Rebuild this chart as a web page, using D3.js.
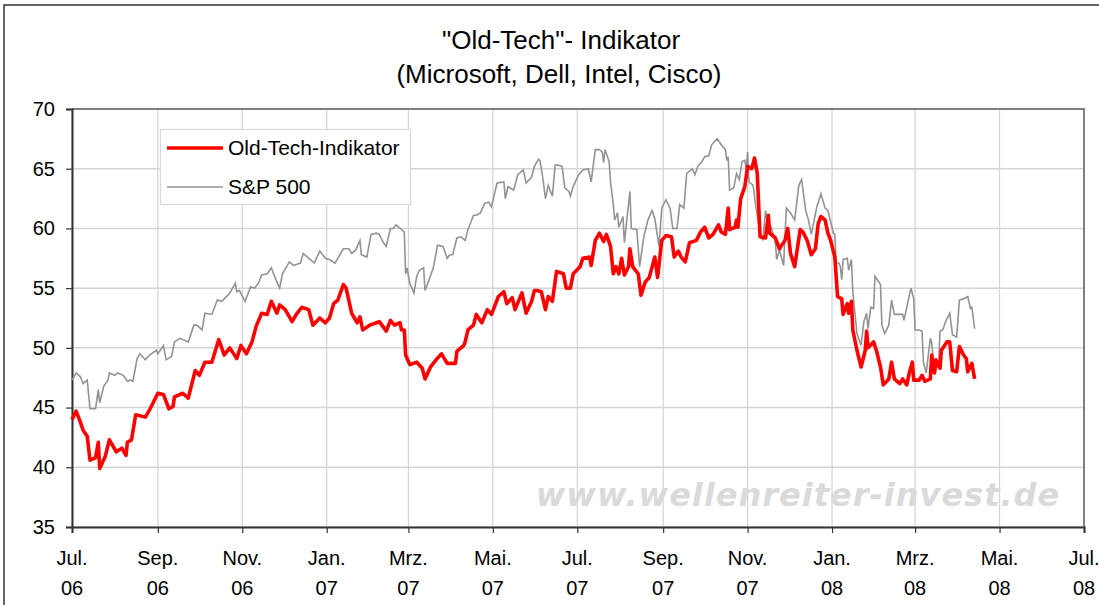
<!DOCTYPE html>
<html lang="de">
<head>
<meta charset="UTF-8">
<title>Old-Tech Indikator</title>
<script src="https://d3js.org/d3.v7.min.js"></script>
<style>
  body { margin: 0; background: #fff; }
  text { font-family: "Liberation Sans", Arial, sans-serif; }
</style>
</head>
<body>
<svg id="chart"></svg>
<script>
// tick labels (two lines each)
var tickMonths = ["Jul.", "Sep.", "Nov.", "Jan.", "Mrz.", "Mai.", "Jul.", "Sep.", "Nov.", "Jan.", "Mrz.", "Mai.", "Jul."];
var tickYears  = ["06", "06", "06", "07", "07", "07", "07", "07", "07", "08", "08", "08", "08"];
var tickDates  = ["2006-07-01", "2006-09-01", "2006-11-01", "2007-01-01", "2007-03-01", "2007-05-01",
                  "2007-07-01", "2007-09-01", "2007-11-01", "2008-01-01", "2008-03-01", "2008-05-01", "2008-07-01"];
var yTicks = [35, 40, 45, 50, 55, 60, 65, 70];

// Old-Tech-Indikator
var oldTechDates = ["2006-07-01","2006-07-04","2006-07-07","2006-07-09","2006-07-12","2006-07-14","2006-07-18","2006-07-20","2006-07-21","2006-07-25",
  "2006-07-28","2006-08-02","2006-08-06","2006-08-09","2006-08-10","2006-08-13","2006-08-16","2006-08-23","2006-08-26","2006-09-01",
  "2006-09-05","2006-09-09","2006-09-12","2006-09-13","2006-09-19","2006-09-23","2006-09-28","2006-10-01","2006-10-05","2006-10-10",
  "2006-10-15","2006-10-19","2006-10-23","2006-10-28","2006-10-31","2006-11-04","2006-11-08","2006-11-11","2006-11-15","2006-11-19",
  "2006-11-22","2006-11-26","2006-11-28","2006-12-02","2006-12-07","2006-12-10","2006-12-14","2006-12-19","2006-12-22","2006-12-27",
  "2006-12-31","2007-01-03","2007-01-06","2007-01-09","2007-01-13","2007-01-15","2007-01-19","2007-01-23","2007-01-25","2007-01-27",
  "2007-02-01","2007-02-06","2007-02-08","2007-02-13","2007-02-16","2007-02-19","2007-02-23","2007-02-24","2007-02-26","2007-02-27",
  "2007-03-02","2007-03-07","2007-03-11","2007-03-13","2007-03-17","2007-03-21","2007-03-25","2007-03-29","2007-04-04","2007-04-05",
  "2007-04-10","2007-04-11","2007-04-13","2007-04-17","2007-04-19","2007-04-23","2007-04-27","2007-04-30","2007-05-05","2007-05-09",
  "2007-05-11","2007-05-15","2007-05-17","2007-05-22","2007-05-25","2007-05-29","2007-05-31","2007-06-02","2007-06-05","2007-06-08",
  "2007-06-10","2007-06-13","2007-06-16","2007-06-21","2007-06-23","2007-06-26","2007-06-28","2007-07-03","2007-07-05","2007-07-10",
  "2007-07-11","2007-07-14","2007-07-17","2007-07-20","2007-07-22","2007-07-25","2007-07-27","2007-07-29","2007-07-31","2007-08-02",
  "2007-08-04","2007-08-07","2007-08-08","2007-08-10","2007-08-14","2007-08-16","2007-08-19","2007-08-22","2007-08-26","2007-08-28",
  "2007-08-31","2007-09-03","2007-09-07","2007-09-09","2007-09-12","2007-09-14","2007-09-17","2007-09-20","2007-09-25","2007-09-28",
  "2007-10-01","2007-10-04","2007-10-07","2007-10-11","2007-10-13","2007-10-16","2007-10-18","2007-10-19","2007-10-23","2007-10-24",
  "2007-10-25","2007-10-27","2007-10-30","2007-11-01","2007-11-04","2007-11-06","2007-11-08","2007-11-10","2007-11-14","2007-11-16",
  "2007-11-17","2007-11-21","2007-11-24","2007-11-28","2007-11-30","2007-12-02","2007-12-05","2007-12-09","2007-12-11","2007-12-14",
  "2007-12-17","2007-12-20","2007-12-22","2007-12-24","2007-12-27","2007-12-29","2007-12-31","2008-01-03","2008-01-05","2008-01-08",
  "2008-01-09","2008-01-12","2008-01-13","2008-01-15","2008-01-16","2008-01-19","2008-01-22","2008-01-25","2008-01-26","2008-01-27",
  "2008-01-31","2008-02-02","2008-02-05","2008-02-07","2008-02-11","2008-02-13","2008-02-15","2008-02-19","2008-02-21","2008-02-24",
  "2008-02-26","2008-02-28","2008-02-29","2008-03-04","2008-03-06","2008-03-08","2008-03-12","2008-03-13","2008-03-15","2008-03-16",
  "2008-03-19","2008-03-20","2008-03-24","2008-03-26","2008-03-28","2008-03-31","2008-04-02","2008-04-05","2008-04-07","2008-04-08",
  "2008-04-11","2008-04-13"];
var oldTechValues = [44.0,44.7,43.8,43.1,42.6,40.6,40.8,42.1,39.9,40.9,
  42.3,41.3,41.6,41.0,42.1,42.3,44.4,44.2,44.8,46.2,
  46.1,44.9,45.1,45.9,46.2,45.8,48.1,47.7,48.8,48.8,
  50.7,49.4,50.0,49.1,50.2,49.5,50.5,51.8,52.9,52.8,
  53.9,52.9,53.6,53.2,52.2,52.8,53.4,53.2,51.9,52.5,
  52.1,52.5,53.7,54.0,55.3,55.0,52.9,52.1,52.6,51.5,
  51.9,52.1,52.2,51.4,52.3,51.9,52.1,51.5,51.5,49.4,
  48.6,48.8,48.3,47.4,48.4,49.0,49.5,48.7,48.7,49.7,
  50.2,50.5,51.5,51.9,52.8,52.1,53.2,52.8,54.3,54.7,
  53.7,54.2,53.2,54.6,52.9,53.9,54.8,54.8,54.7,53.2,
  54.3,53.9,56.4,56.2,55.0,55.0,56.2,56.8,57.5,57.6,
  56.9,59.0,59.6,58.9,59.5,58.5,56.2,56.8,56.2,57.5,
  56.1,56.8,58.3,56.8,56.2,54.4,55.5,55.9,57.6,55.9,
  59.0,59.4,59.3,57.6,58.1,57.6,57.2,58.8,59.0,59.7,
  60.1,59.2,59.5,60.3,59.7,59.5,61.7,59.9,60.1,60.7,
  60.1,62.5,63.5,65.2,65.0,65.9,64.6,59.3,59.2,61.1,
  59.6,59.2,58.3,59.0,60.0,57.9,56.8,59.9,59.7,59.0,
  57.8,58.3,60.4,61.0,60.7,59.6,59.0,57.6,54.3,54.1,
  52.8,53.7,52.9,53.9,51.5,49.8,48.4,49.8,51.4,50.0,
  50.5,49.8,48.4,46.9,47.4,48.8,47.4,47.0,47.4,46.9,
  48.0,48.8,47.3,47.3,47.7,47.2,47.4,49.4,47.9,49.0,
  48.3,49.8,50.5,50.5,48.1,48.0,50.1,49.4,49.1,48.0,
  48.7,47.4];

// S&P 500
var spDates = ["2006-07-01","2006-07-04","2006-07-07","2006-07-09","2006-07-12","2006-07-14","2006-07-18","2006-07-20","2006-07-21","2006-07-24",
  "2006-07-27","2006-07-28","2006-08-01","2006-08-03","2006-08-07","2006-08-10","2006-08-12","2006-08-14","2006-08-17","2006-08-19",
  "2006-08-23","2006-08-26","2006-08-31","2006-09-01","2006-09-05","2006-09-07","2006-09-11","2006-09-13","2006-09-17","2006-09-23",
  "2006-09-27","2006-09-29","2006-10-03","2006-10-05","2006-10-10","2006-10-14","2006-10-17","2006-10-19","2006-10-23","2006-10-25",
  "2006-10-27","2006-10-28","2006-10-30","2006-11-03","2006-11-07","2006-11-10","2006-11-13","2006-11-15","2006-11-19","2006-11-22",
  "2006-11-25","2006-11-28","2006-11-30","2006-12-05","2006-12-08","2006-12-13","2006-12-15","2006-12-20","2006-12-23","2006-12-27",
  "2006-12-31","2007-01-03","2007-01-07","2007-01-11","2007-01-13","2007-01-17","2007-01-19","2007-01-22","2007-01-25","2007-01-26",
  "2007-01-30","2007-02-02","2007-02-06","2007-02-08","2007-02-11","2007-02-13","2007-02-16","2007-02-18","2007-02-20","2007-02-23",
  "2007-02-26","2007-02-27","2007-02-28","2007-03-02","2007-03-05","2007-03-07","2007-03-09","2007-03-12","2007-03-13","2007-03-15",
  "2007-03-19","2007-03-22","2007-03-26","2007-03-29","2007-03-31","2007-04-02","2007-04-05","2007-04-08","2007-04-11","2007-04-13",
  "2007-04-17","2007-04-19","2007-04-22","2007-04-25","2007-04-28","2007-04-30","2007-05-04","2007-05-09","2007-05-10","2007-05-12",
  "2007-05-16","2007-05-19","2007-05-23","2007-05-25","2007-05-29","2007-05-31","2007-06-03","2007-06-04","2007-06-06","2007-06-08",
  "2007-06-10","2007-06-13","2007-06-15","2007-06-17","2007-06-20","2007-06-22","2007-06-25","2007-06-26","2007-06-28","2007-07-02",
  "2007-07-05","2007-07-09","2007-07-11","2007-07-14","2007-07-17","2007-07-19","2007-07-20","2007-07-21","2007-07-24","2007-07-25",
  "2007-07-27","2007-07-28","2007-07-30","2007-07-31","2007-08-03","2007-08-04","2007-08-08","2007-08-09","2007-08-13","2007-08-15",
  "2007-08-18","2007-08-21","2007-08-24","2007-08-26","2007-08-29","2007-08-31","2007-09-03","2007-09-06","2007-09-08","2007-09-11",
  "2007-09-13","2007-09-16","2007-09-18","2007-09-22","2007-09-24","2007-09-26","2007-09-29","2007-10-01","2007-10-04","2007-10-06",
  "2007-10-10","2007-10-13","2007-10-16","2007-10-17","2007-10-18","2007-10-19","2007-10-22","2007-10-24","2007-10-26","2007-10-28",
  "2007-10-30","2007-10-31","2007-11-01","2007-11-02","2007-11-05","2007-11-07","2007-11-10","2007-11-12","2007-11-14","2007-11-16",
  "2007-11-18","2007-11-21","2007-11-22","2007-11-24","2007-11-27","2007-11-29","2007-12-02","2007-12-05","2007-12-08","2007-12-10",
  "2007-12-13","2007-12-15","2007-12-17","2007-12-21","2007-12-24","2007-12-27","2007-12-29","2008-01-02","2008-01-03","2008-01-04",
  "2008-01-06","2008-01-07","2008-01-08","2008-01-09","2008-01-12","2008-01-13","2008-01-15","2008-01-16","2008-01-19","2008-01-22",
  "2008-01-24","2008-01-26","2008-01-27","2008-01-29","2008-01-31","2008-02-01","2008-02-05","2008-02-06","2008-02-08","2008-02-11",
  "2008-02-13","2008-02-15","2008-02-19","2008-02-21","2008-02-22","2008-02-24","2008-02-27","2008-02-29","2008-03-01","2008-03-04",
  "2008-03-06","2008-03-07","2008-03-09","2008-03-12","2008-03-13","2008-03-15","2008-03-18","2008-03-19","2008-03-21","2008-03-23",
  "2008-03-26","2008-03-28","2008-03-31","2008-04-02","2008-04-05","2008-04-08","2008-04-10","2008-04-11","2008-04-13"];
var spValues = [47.3,47.9,47.6,47.0,47.3,44.9,44.9,46.5,45.4,46.8,
  47.3,47.9,47.7,47.9,47.7,47.2,47.3,47.2,49.1,49.5,
  49.0,49.4,49.8,49.5,50.2,49.0,49.3,50.5,50.8,50.5,
  51.9,51.9,51.5,52.9,52.8,54.0,53.9,54.1,54.6,55.0,
  55.4,54.7,54.8,53.9,55.1,55.0,55.5,56.1,56.2,56.7,
  55.8,55.0,56.2,57.2,56.9,57.1,57.9,57.4,57.1,58.1,
  57.5,57.4,57.1,57.9,58.3,58.3,57.9,58.2,59.0,57.8,
  57.6,59.5,59.6,59.5,58.8,58.5,60.0,60.0,60.3,60.0,
  59.7,56.2,56.7,55.4,54.6,56.0,56.5,56.7,54.8,55.4,
  56.7,58.6,58.5,57.5,57.8,57.8,59.2,59.3,59.0,59.9,
  61.1,61.1,61.3,62.1,62.2,61.8,63.8,63.9,62.5,63.5,
  63.2,64.5,64.9,63.8,64.3,65.2,65.8,65.7,64.3,62.5,
  63.6,62.7,65.3,65.3,65.2,63.4,63.1,62.7,63.5,64.5,
  64.9,65.0,63.9,66.6,66.6,66.4,65.5,66.6,65.6,63.9,
  62.0,60.7,61.3,60.1,61.0,58.8,63.1,60.0,59.9,56.8,
  59.3,60.7,61.5,60.8,58.5,61.7,62.4,61.7,60.0,60.0,
  62.0,61.7,64.6,65.0,64.5,65.2,65.6,66.0,66.1,67.0,
  67.5,67.0,66.6,65.7,66.0,63.2,63.4,64.6,64.1,65.6,
  65.7,65.0,66.4,63.9,63.6,61.8,59.6,59.0,61.5,59.9,
  60.1,59.0,57.4,58.2,56.9,61.7,61.3,60.7,63.6,64.1,
  61.5,60.7,59.5,61.8,62.9,61.7,61.5,59.6,59.5,57.1,
  57.1,56.8,55.7,57.4,57.5,56.5,57.4,54.7,51.2,50.2,
  52.2,52.9,51.6,53.4,53.3,56.0,55.3,51.9,51.2,51.9,
  54.0,52.8,52.8,52.8,52.3,53.4,55.0,54.1,51.5,51.5,
  51.4,48.8,47.9,50.8,50.4,48.0,48.6,51.4,51.5,52.2,
  52.9,51.1,50.9,54.0,54.1,54.3,53.3,53.4,51.6];

var parse = d3.timeParse("%Y-%m-%d");
var oldTech = oldTechDates.map(function (d, i) { return { date: parse(d), value: oldTechValues[i] }; });
var sp = spDates.map(function (d, i) { return { date: parse(d), value: spValues[i] }; });

var W = 1099, H = 605;
var plot = { left: 72, right: 1084, top: 109, bottom: 527 };

var svg = d3.select("#chart").attr("width", W).attr("height", H);

// outer chart frame
svg.append("path")
  .attr("d", "M4," + (H + 2) + "V5H" + (W + 2))
  .attr("fill", "none")
  .attr("stroke", "#333")
  .attr("stroke-width", 1.5);

var x = d3.scaleTime()
  .domain([parse("2006-07-01"), parse("2008-07-01")])
  .range([plot.left, plot.right]);
var y = d3.scaleLinear()
  .domain([35, 70])
  .range([plot.bottom, plot.top]);

// gridlines
svg.append("g")
  .selectAll("line.h")
  .data(yTicks)
  .enter().append("line")
  .attr("x1", plot.left).attr("x2", plot.right)
  .attr("y1", function (d) { return y(d); })
  .attr("y2", function (d) { return y(d); })
  .attr("stroke", "#d4d4d4")
  .attr("stroke-width", 1.5);
svg.append("g")
  .selectAll("line.v")
  .data(tickDates)
  .enter().append("line")
  .attr("x1", function (d) { return x(parse(d)); })
  .attr("x2", function (d) { return x(parse(d)); })
  .attr("y1", plot.top).attr("y2", plot.bottom)
  .attr("stroke", "#d4d4d4")
  .attr("stroke-width", 1.2);

// plot border (top + right)
svg.append("path")
  .attr("d", "M" + plot.left + "," + plot.top + "H" + plot.right + "V" + plot.bottom)
  .attr("fill", "none")
  .attr("stroke", "#7f7f7f")
  .attr("stroke-width", 2);

// axes
var yAxis = svg.append("g")
  .attr("transform", "translate(" + plot.left + ",0)")
  .call(d3.axisLeft(y).tickValues(yTicks).tickSize(6).tickPadding(11));
var xAxis = svg.append("g")
  .attr("transform", "translate(0," + plot.bottom + ")")
  .call(d3.axisBottom(x).tickValues(tickDates.map(parse)).tickSize(6).tickFormat(""));

[yAxis, xAxis].forEach(function (a) {
  a.select(".domain").attr("stroke", "#333").attr("stroke-width", 2);
  a.selectAll(".tick line").attr("stroke", "#333").attr("stroke-width", 1.2);
});
yAxis.selectAll(".tick text")
  .style("font-size", "20px")
  .attr("fill", "#000");

// two-line x tick labels
var xl = svg.append("g");
tickDates.forEach(function (d, i) {
  var t = xl.append("text")
    .attr("x", x(parse(d)))
    .attr("text-anchor", "middle")
    .style("font-size", "20px");
  t.append("tspan").attr("x", x(parse(d))).attr("y", 565).text(tickMonths[i]);
  t.append("tspan").attr("x", x(parse(d))).attr("y", 595).text(tickYears[i]);
});

// watermark
svg.append("text")
  .attr("x", 798).attr("y", 506)
  .attr("text-anchor", "middle")
  .style("font-family", "'DejaVu Sans', Verdana, sans-serif")
  .style("font-weight", "bold")
  .style("font-style", "italic")
  .style("font-size", "32px")
  .style("letter-spacing", "1px")
  .attr("fill", "#dadada")
  .text("www.wellenreiter-invest.de");

// lines
var line = d3.line()
  .x(function (d) { return x(d.date); })
  .y(function (d) { return y(d.value); });

svg.append("path")
  .datum(sp)
  .attr("d", line)
  .attr("fill", "none")
  .attr("stroke", "#939393")
  .attr("stroke-width", 1.6);

svg.append("path")
  .datum(oldTech)
  .attr("d", line)
  .attr("fill", "none")
  .attr("stroke", "#ff0000")
  .attr("stroke-width", 3.6)
  .attr("stroke-linejoin", "round");

// legend
var lg = svg.append("g");
lg.append("rect")
  .attr("x", 160.5).attr("y", 129.5)
  .attr("width", 250).attr("height", 75)
  .attr("fill", "#fff")
  .attr("stroke", "#d9d9d9")
  .attr("stroke-width", 1.2);
lg.append("line")
  .attr("x1", 167).attr("x2", 223).attr("y1", 148).attr("y2", 148)
  .attr("stroke", "#ff0000").attr("stroke-width", 3.6);
lg.append("line")
  .attr("x1", 167).attr("x2", 223).attr("y1", 187).attr("y2", 187)
  .attr("stroke", "#939393").attr("stroke-width", 1.6);
lg.append("text").attr("x", 228).attr("y", 155).style("font-size", "21px").text("Old-Tech-Indikator");
lg.append("text").attr("x", 228).attr("y", 194).style("font-size", "21px").text("S&P 500");

// title
svg.append("text")
  .attr("x", 561).attr("y", 49)
  .attr("text-anchor", "middle")
  .style("font-size", "26px")
  .text("\"Old-Tech\"- Indikator");
svg.append("text")
  .attr("x", 559).attr("y", 83)
  .attr("text-anchor", "middle")
  .style("font-size", "26px")
  .text("(Microsoft, Dell, Intel, Cisco)");
</script>
</body>
</html>
